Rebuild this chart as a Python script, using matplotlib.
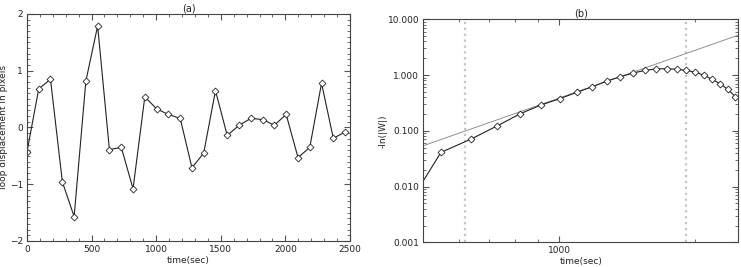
import matplotlib
matplotlib.use('Agg')
import matplotlib.pyplot as plt
from matplotlib.ticker import MultipleLocator, LogLocator, FuncFormatter, NullFormatter, FixedLocator

# panel (a): loop displacement
time_a = [0, 91, 182, 274, 365, 456, 547, 638, 730, 821, 912, 1003, 1094, 1186,
          1277, 1368, 1459, 1550, 1642, 1733, 1824, 1915, 2006, 2098, 2189, 2280,
          2371, 2462]
disp_a = [-0.43, 0.68, 0.85, -0.96, -1.57, 0.82, 1.79, -0.39, -0.35, -1.08, 0.54,
          0.33, 0.23, 0.16, -0.71, -0.45, 0.65, -0.14, 0.04, 0.16, 0.14, 0.04,
          0.23, -0.53, -0.35, 0.78, -0.19, -0.08]

# panel (b): -ln(|W|)
time_b = [456, 547, 638, 730, 821, 912, 1003, 1094, 1186, 1277, 1368, 1459, 1550,
          1642, 1733, 1824, 1915, 2006, 2098, 2189, 2280, 2371, 2462]
lnw_b = [0.0038, 0.041, 0.071, 0.123, 0.203, 0.29, 0.376, 0.489, 0.617, 0.78,
         0.933, 1.086, 1.21, 1.29, 1.30, 1.27, 1.21, 1.13, 0.99, 0.836, 0.69,
         0.553, 0.41]
fit_t = [500, 2500]
fit_y = [0.054, 5.2]
fit_window = [620, 1910]

ink = '#222222'
tick_grey = '#555555'
plt.rcParams['font.family'] = ['DejaVu Sans']
plt.rcParams['font.size'] = 6.5

fig = plt.figure(figsize=(7.41, 2.67), dpi=100)
ax1 = fig.add_axes([0.0364, 0.0974, 0.4359, 0.8502])
ax2 = fig.add_axes([0.5713, 0.0925, 0.4251, 0.8352])


def idl_style(ax):
    ax.tick_params(which='both', direction='in', top=True, right=True,
                   colors=tick_grey, labelcolor=ink, labelsize=6.5, pad=3)
    ax.tick_params(which='major', length=4, width=0.8)
    ax.tick_params(which='minor', length=2, width=0.6)
    for s in ax.spines.values():
        s.set_color('#444444')
        s.set_linewidth(0.8)


ax1.plot(time_a, disp_a, '-', color=ink, linewidth=0.8,
         marker='D', markersize=3.5, markerfacecolor='white',
         markeredgecolor=ink, markeredgewidth=0.6)
ax1.set_xlim(0, 2500)
ax1.set_ylim(-2, 2)
ax1.xaxis.set_major_locator(MultipleLocator(500))
ax1.xaxis.set_minor_locator(MultipleLocator(100))
ax1.yaxis.set_major_locator(MultipleLocator(1))
ax1.yaxis.set_minor_locator(MultipleLocator(0.1))
ax1.set_xlabel('time(sec)', color=ink, fontsize=6.5, labelpad=1)
ax1.set_ylabel('loop displacement in pixels', color=ink, fontsize=6.5)
ax1.yaxis.set_label_coords(-0.058, 0.5)
ax1.set_title('(a)', color=ink, fontsize=7, pad=1)
idl_style(ax1)

ax2.set_xscale('log')
ax2.set_yscale('log')
for xv in fit_window:
    ax2.axvline(xv, color='#c4c4c4', linestyle=':', linewidth=1.6)
ax2.plot(fit_t, fit_y, '-', color='#808080', linewidth=0.6)
ax2.plot(time_b, lnw_b, '-', color=ink, linewidth=0.8,
         marker='D', markersize=3.5, markerfacecolor='white',
         markeredgecolor=ink, markeredgewidth=0.6)
ax2.set_xlim(500, 2500)
ax2.set_ylim(0.001, 10)
ax2.xaxis.set_major_locator(FixedLocator([1000]))
ax2.xaxis.set_minor_locator(LogLocator(base=10, subs=range(2, 10)))
ax2.xaxis.set_major_formatter(FuncFormatter(lambda v, p: '%d' % v))
ax2.xaxis.set_minor_formatter(NullFormatter())
ax2.yaxis.set_major_locator(LogLocator(base=10, numticks=10))
ax2.yaxis.set_minor_locator(LogLocator(base=10, subs=range(2, 10), numticks=20))
ax2.yaxis.set_major_formatter(FuncFormatter(lambda v, p: '%.3f' % v))
ax2.yaxis.set_minor_formatter(NullFormatter())
ax2.set_xlabel('time(sec)', color=ink, fontsize=6.5, labelpad=1)
ax2.set_ylabel('-ln(|W|)', color=ink, fontsize=6.5)
ax2.yaxis.set_label_coords(-0.115, 0.5)
ax2.set_title('(b)', color=ink, fontsize=7, pad=2)
idl_style(ax2)

fig.savefig('out.png', dpi=100)
